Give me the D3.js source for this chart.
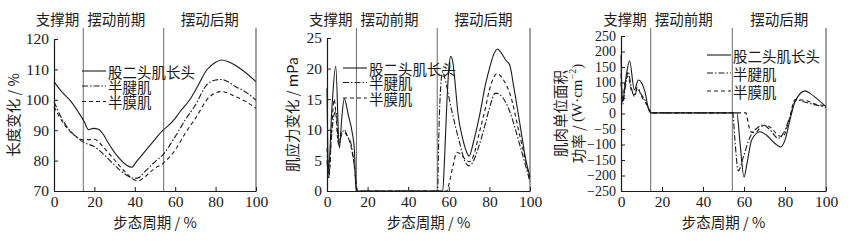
<!DOCTYPE html>
<html>
<head>
<meta charset="utf-8">
<script src="https://cdn.jsdelivr.net/npm/d3@7"></script>
<style>
  body { margin: 0; background: #fff; }
  svg text { font-family: 'Liberation Serif', 'Times New Roman', serif; fill: #1a1a1a; }
  svg text.cjk { font-family: 'Noto Sans CJK SC', sans-serif; }
</style>
</head>
<body>
<svg id="chart" width="857" height="241"></svg>
<script>
// ---- data ----
const seriesNames = ['股二头肌长头', '半腱肌', '半膜肌'];
const phaseMarks = [14.5, 54.3];
const xTicks = [0, 20, 40, 60, 80, 100];

const lengthBF = [[0,106],[4,102.5],[8,99.8],[12,96],[15,92.8],[17,90.2],[19.5,90.6],[22,90.3],[24,89],[26,86.8],[31,81.8],[36,78.5],[38.4,77.8],[41,79.8],[47.5,85],[54,90],[58,92.4],[60,93.9],[62.3,96],[67.2,100],[70.6,103.8],[75.6,109.8],[79.8,112.3],[83,113.1],[86.3,112.5],[92,110.4],[100,106]];
const lengthST = [[0,99.4],[5,92.5],[10,88.4],[15,85.9],[20,84.6],[25,81.8],[30,78.5],[35,75.6],[40,74.2],[42,74.4],[45,76.4],[50,79.6],[54,82],[60,87.9],[65,93.4],[70,98.3],[75.6,104.9],[80,106.5],[83,106.7],[90,104.3],[95,102.5],[100,99.9]];
const lengthSM = [[0,97.7],[5,92],[10,88.4],[15,86.8],[20,87],[25,84],[30,80.2],[35,76.4],[40,73.6],[42,73.4],[45,74.7],[50,77.5],[54,79.1],[60,83.5],[65,89],[70,93.9],[77,101],[83,102.7],[90,101],[95,99.4],[100,97.2]];

const stressBF = [[0,16.8],[0.7,3.4],[2.5,14],[4.3,20.4],[6.1,7],[7.3,12],[8.5,15.1],[10.5,12.4],[12.5,9.4],[13.5,6.7],[14.3,0],[57,0],[58,6],[59,14],[60,20],[61,22],[62,21],[63,18],[64.5,12.7],[67,8.3],[69,6.2],[70,5.7],[72,7.8],[75,12.1],[78,17.3],[80,20],[82,22.2],[84,23.2],[86,22.5],[88,21.4],[90,20.6],[92,17],[95,11],[98,5],[100,2.3]];
const stressST = [[0,5],[0.8,2],[2,8],[3.5,12.5],[4.5,13],[5.7,7.5],[7,9],[8.5,10],[10,9],[12,7.5],[13.5,4],[15,0],[54.5,0],[55,8],[56,17],[57,19.5],[58,18.5],[61,13.8],[65,8.3],[68,4.8],[70,4.1],[72,4.8],[75,7.5],[78,11],[80,13.5],[83,16],[85,15.8],[88,14.5],[90,13],[95,7.5],[100,1.5]];
const stressSM = [[0,7],[1,2.5],[2.3,10],[3.5,15],[4.3,13],[5.5,8],[7,9.5],[8.5,9.5],[10,9],[12,7],[13.5,4],[15,0],[59,0],[60,1],[62,4],[64,6.3],[66,6],[68,5.2],[70,4.8],[72,5.6],[75,9.5],[78,13.5],[80,16.5],[84,19.2],[86,18.6],[88,17.5],[90,16],[95,9],[100,1.8]];

const powerBF = [[0,188],[0.7,38],[2.5,120],[4.2,170],[6.5,76],[8.5,108],[11.7,70],[13.3,17],[14.5,2],[56.5,2],[58,-90],[60,-205],[61.5,-160],[63.7,-86],[67.8,-59],[71,-70],[75,-96],[77.9,-108],[80,-86],[82.4,-21],[84.9,38],[89.8,73],[92.2,65],[95.4,49],[100,22]];
const powerST = [[0,130],[0.8,30],[2,80],[3.5,135],[5,85],[6.5,55],[8,80],[10,60],[12,40],[14,10],[15,2],[54.5,2],[55.5,-80],[57.2,-185],[59.7,-140],[63,-75],[66.2,-48],[69.4,-37],[72.7,-53],[76.7,-80],[79.2,-64],[82.4,-10],[85.4,44],[89,38],[95.4,27],[100,20]];
const powerSM = [[0,100],[0.8,50],[2,100],[3.5,120],[5,75],[6.5,60],[8,85],[10,55],[12,35],[14,10],[15,2],[61,2],[62,-30],[63.5,-60],[65.5,-62],[68,-45],[70,-38],[73,-45],[77,-72],[79,-75],[82,-20],[85,45],[90,42],[95,30],[100,25]];

const lengthTicks = [70, 80, 90, 100, 110, 120];
const stressTicks = [0, 5, 10, 15, 20, 25];
const powerTicks = d3.range(-250, 251, 50);

// ---- layout ----
const ink = '#1a1a1a';
const dashes = [null, '6,2,1.5,2', '4,3'];
const frameTop = 28;

const panels = [
  { x0: 54, x1: 256, yTop: 39, yBot: 191, domain: [70, 120], ticks: lengthTicks, tickSize: 15.5,
    data: [lengthBF, lengthST, lengthSM], yTitle: [['长度变化 / %']], yTitleX: [12],
    legend: { x: 82, ys: [71, 86, 101.5] } },
  { x0: 327, x1: 530, yTop: 38, yBot: 191, domain: [0, 25], ticks: stressTicks, tickSize: 15.5,
    data: [stressBF, stressST, stressSM], yTitle: [['肌应力变化 / mPa']], yTitleX: [291],
    legend: { x: 343, ys: [68, 82.5, 98] } },
  { x0: 621, x1: 826, yTop: 36, yBot: 191, domain: [-250, 250], ticks: powerTicks, tickSize: 14,
    data: [powerBF, powerST, powerSM],
    // second line mixes CJK and a latin unit with a superscript
    yTitle: [['肌肉单位面积'], ['功率 / ', '(W·cm', '−2', ')']], yTitleX: [559, 577],
    legend: { x: 707, ys: [55, 73, 91] } }
];

const svg = d3.select('#chart');

panels.forEach(p => {
  const x = d3.scaleLinear().domain([0, 100]).range([p.x0, p.x1]);
  const y = d3.scaleLinear().domain(p.domain).range([p.yBot, p.yTop]);
  const g = svg.append('g');

  // phase lines + right frame line
  phaseMarks.concat([100]).forEach((m, i) => {
    g.append('line')
      .attr('x1', x(m)).attr('x2', x(m))
      .attr('y1', frameTop).attr('y2', p.yBot)
      .attr('stroke', i < 2 ? '#6a6a6a' : '#444')
      .attr('stroke-width', 1);
  });

  // phase headers
  const cx1 = x(phaseMarks[0]);
  g.append('text').attr('class', 'cjk').attr('x', cx1 - 4).attr('y', 18)
    .attr('text-anchor', 'end').attr('dominant-baseline', 'central')
    .style('font-size', '14.5px').text('支撑期');
  g.append('text').attr('class', 'cjk').attr('x', cx1 + 4).attr('y', 18)
    .attr('dominant-baseline', 'central')
    .style('font-size', '14.5px').text('摆动前期');
  g.append('text').attr('class', 'cjk').attr('x', (x(phaseMarks[1]) + x(100)) / 2).attr('y', 18)
    .attr('text-anchor', 'middle').attr('dominant-baseline', 'central')
    .style('font-size', '14.5px').text('摆动后期');

  // axes
  const xAxis = g.append('g')
    .attr('transform', 'translate(0,' + p.yBot + ')')
    .call(d3.axisBottom(x).tickValues(xTicks).tickSizeInner(-4).tickSizeOuter(0).tickPadding(5));
  xAxis.selectAll('text').style('font-size', '15.5px').attr('dy', '0.71em');

  const yAxis = g.append('g')
    .attr('transform', 'translate(' + p.x0 + ',0)')
    .call(d3.axisLeft(y).tickValues(p.ticks).tickSizeInner(-4).tickSizeOuter(0).tickPadding(5));
  yAxis.selectAll('text').style('font-size', p.tickSize + 'px');

  [xAxis, yAxis].forEach(a => {
    a.select('.domain').attr('stroke', ink).attr('stroke-width', 1.2);
    a.selectAll('.tick line').attr('stroke', ink);
    a.selectAll('text').style('fill', ink).style('font-family', "'Liberation Serif', serif");
  });

  // axis titles
  g.append('text').attr('class', 'cjk')
    .attr('x', (p.x0 + p.x1) / 2).attr('y', 221)
    .attr('text-anchor', 'middle').attr('dominant-baseline', 'central')
    .style('font-size', '14.5px').text('步态周期 / %');

  p.yTitle.forEach((parts, i) => {
    const t = g.append('text').attr('class', 'cjk')
      .attr('transform', 'translate(' + p.yTitleX[i] + ',' + ((p.yTop + p.yBot) / 2) + ') rotate(-90)')
      .attr('text-anchor', 'middle').attr('dominant-baseline', 'central')
      .style('font-size', '14.5px');
    if (parts.length === 1) {
      t.text(parts[0]);
    } else {
      t.append('tspan').text(parts[0]);
      t.append('tspan').style('font-family', "'Liberation Serif', serif").style('font-size', '15px').text(parts[1]);
      t.append('tspan').style('font-family', "'Liberation Serif', serif").style('font-size', '10px')
        .attr('dy', '-0.5em').text(parts[2]);
      t.append('tspan').style('font-family', "'Liberation Serif', serif").style('font-size', '15px')
        .attr('dy', '0.35em').text(parts[3]);
    }
  });

  // curves
  const line = d3.line()
    .x(d => x(d[0]))
    .y(d => y(d[1]))
    .curve(d3.curveMonotoneX);

  p.data.forEach((s, i) => {
    g.append('path')
      .attr('d', line(s))
      .attr('fill', 'none')
      .attr('stroke', ink)
      .attr('stroke-width', 1.1)
      .attr('stroke-dasharray', dashes[i]);
  });

  // legend
  seriesNames.forEach((name, i) => {
    const ly = p.legend.ys[i];
    g.append('line')
      .attr('x1', p.legend.x).attr('x2', p.legend.x + 24)
      .attr('y1', ly).attr('y2', ly)
      .attr('stroke', ink).attr('stroke-width', 1.1)
      .attr('stroke-dasharray', dashes[i]);
    g.append('text').attr('class', 'cjk')
      .attr('x', p.legend.x + 26).attr('y', ly)
      .attr('dominant-baseline', 'central')
      .style('font-size', '14.5px').text(name);
  });
});
</script>
</body>
</html>
